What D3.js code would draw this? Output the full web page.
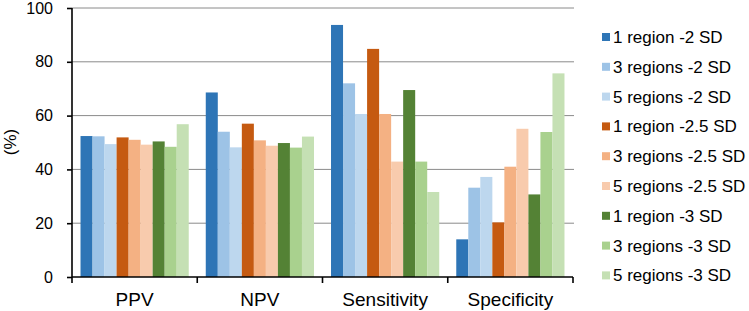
<!DOCTYPE html>
<html lang="en">
<head>
  <meta charset="UTF-8">
  <title>PPV / NPV / Sensitivity / Specificity</title>
  <script src="https://d3js.org/d3.v7.min.js"></script>
  <style>
    body { margin: 0; background: #fff; }
    text { font-family: "Liberation Sans", Arial, sans-serif; fill: #000; }
  </style>
</head>
<body>
  <svg id="chart" width="749" height="311"></svg>
  <script>
    const categories = ["PPV", "NPV", "Sensitivity", "Specificity"];
    const seriesNames = ["1 region -2 SD", "3 regions -2 SD", "5 regions -2 SD",
      "1 region -2.5 SD", "3 regions -2.5 SD", "5 regions -2.5 SD",
      "1 region -3 SD", "3 regions -3 SD", "5 regions -3 SD"];
    const seriesColors = ["#2e75b6", "#9dc3e6", "#bdd7ee",
      "#c55a11", "#f4b183", "#f8cbad",
      "#548235", "#a9d18e", "#c5e0b4"];
    // one row per category, one value per series
    const values = [
      [52.4, 52.3, 49.4, 51.9, 51.0, 49.2, 50.4, 48.4, 56.8],
      [68.6, 54.0, 48.2, 57.0, 50.8, 48.8, 49.8, 48.1, 52.2],
      [93.7, 72.0, 60.6, 84.8, 60.6, 42.9, 69.5, 42.9, 31.6],
      [14.0, 33.2, 37.2, 20.3, 41.0, 55.1, 30.7, 53.9, 75.7]
    ];
    const yTicks = [0, 20, 40, 60, 80, 100];

    const svg = d3.select("#chart");
    const plot = { left: 72, right: 573, top: 8, bottom: 277 };

    const x0 = d3.scaleBand().domain(categories)
      .range([plot.left, plot.right])
      .paddingInner(0.136).paddingOuter(0.068);
    const x1 = d3.scaleBand().domain(d3.range(seriesNames.length))
      .range([0, x0.bandwidth()]);
    const y = d3.scaleLinear().domain([0, 100]).range([plot.bottom, plot.top]);

    // gridlines
    svg.append("g").selectAll("line").data(yTicks.filter(d => d > 0))
      .join("line")
      .attr("x1", plot.left).attr("x2", plot.right + 1)
      .attr("y1", d => y(d)).attr("y2", d => y(d))
      .attr("stroke", "#8a8a8a").attr("stroke-width", 1);

    // bars
    svg.append("g").selectAll("g").data(values)
      .join("g")
      .attr("transform", (d, i) => "translate(" + x0(categories[i]) + ",0)")
      .selectAll("rect").data(d => d)
      .join("rect")
      .attr("x", (d, j) => x1(j))
      .attr("width", x1.bandwidth())
      .attr("y", d => y(d))
      .attr("height", d => y(0) - y(d))
      .attr("fill", (d, j) => seriesColors[j]);

    // y axis
    const yAxis = svg.append("g")
      .attr("transform", "translate(" + plot.left + ",0)")
      .call(d3.axisLeft(y).tickValues(yTicks).tickSize(5).tickPadding(14));
    yAxis.selectAll("path, line").attr("stroke", "#000").attr("stroke-width", 1.6);
    yAxis.select(".domain").attr("d", "M0," + plot.top + "V" + plot.bottom);
    yAxis.selectAll("text").style("font-size", "16px").attr("font-family", null);

    // x axis
    const xAxis = svg.append("g")
      .attr("transform", "translate(0," + plot.bottom + ")");
    xAxis.append("line")
      .attr("x1", plot.left).attr("x2", plot.right)
      .attr("stroke", "#000").attr("stroke-width", 1.6);
    const bounds = d3.range(categories.length + 1)
      .map(i => plot.left + i * (plot.right - plot.left) / categories.length);
    xAxis.selectAll("line.tk").data(bounds)
      .join("line").attr("class", "tk")
      .attr("x1", d => d).attr("x2", d => d)
      .attr("y1", 0).attr("y2", 6)
      .attr("stroke", "#000").attr("stroke-width", 1.6);
    xAxis.selectAll("text").data(categories)
      .join("text")
      .attr("x", d => x0(d) + x0.bandwidth() / 2)
      .attr("y", 29)
      .attr("text-anchor", "middle")
      .style("font-size", "19px")
      .text(d => d);

    // y title
    svg.append("text")
      .attr("transform", "translate(16,142) rotate(-90)")
      .attr("text-anchor", "middle")
      .style("font-size", "17px")
      .text("(%)");

    // legend
    const legend = svg.append("g").attr("transform", "translate(602,37)");
    const item = legend.selectAll("g").data(seriesNames)
      .join("g")
      .attr("transform", (d, i) => "translate(0," + i * 29.8 + ")");
    item.append("rect")
      .attr("x", 0).attr("y", -4).attr("width", 8).attr("height", 8)
      .attr("fill", (d, i) => seriesColors[i]);
    item.append("text")
      .attr("x", 11).attr("y", 6)
      .style("font-size", "17px")
      .text(d => d);
  </script>
</body>
</html>
